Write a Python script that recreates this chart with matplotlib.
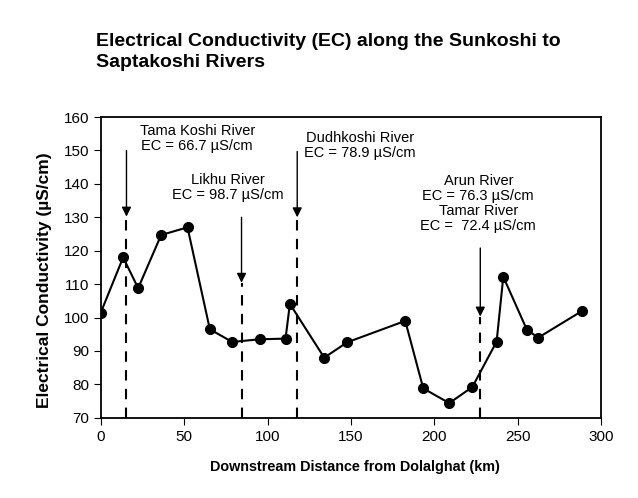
import matplotlib.pyplot as plt
import numpy as np

plt.rcParams['font.family'] = ['Liberation Sans', 'DejaVu Sans']

# distancia aguas abajo (km) y conductividad (uS/cm)
distancia = [0, 13.4, 22.4, 36.2, 52, 65.4, 78.8, 95.2, 110.8, 113.4, 134,
             147.8, 182.6, 193.4, 209, 222.8, 237.4, 241.4, 255.6, 262.4, 288.4]
ec = [101.5, 118, 108.8, 124.7, 127, 96.5, 92.7, 93.5, 93.7, 104.1, 88,
      92.6, 99, 78.8, 74.4, 79.2, 92.8, 112.2, 96.3, 94, 101.9]

# tributarios: posicion, texto
trib_x = [15.4, 84.4, 117.8, 227.6]
trib_texto = ['Tama Koshi River\nEC = 66.7 \u00b5S/cm',
              'Likhu River\nEC = 98.7 \u00b5S/cm',
              'Dudhkoshi River\nEC = 78.9 \u00b5S/cm',
              'Arun River\nEC = 76.3 \u00b5S/cm\nTamar River\nEC =  72.4 \u00b5S/cm']
flecha_ini = [150, 130, 149.7, 120.8]
flecha_fin = [130.2, 110.4, 130, 100.3]
texto_x = [57.8, 76.4, 155.4, 226.4]
texto_y = [158, 143.2, 155.8, 143]

fig = plt.figure(figsize=(6.38, 4.98), dpi=100)
ax = fig.add_axes([0.158, 0.161, 0.784, 0.604])

ax.plot(distancia, ec, color='black', linewidth=1.5, marker='o', markersize=7)

for i in range(len(trib_x)):
    ax.plot([trib_x[i], trib_x[i]], [70, flecha_fin[i]], color='black',
            linestyle=(0, (5, 4)), linewidth=1.5)
    ax.annotate('', xy=(trib_x[i], flecha_fin[i]), xytext=(trib_x[i], flecha_ini[i]),
                arrowprops=dict(arrowstyle='-|>', color='black', lw=1.0,
                                mutation_scale=14, shrinkA=0, shrinkB=0))
    ax.text(texto_x[i], texto_y[i], trib_texto[i], ha='center', va='top',
            fontsize=10.5, linespacing=1.1)

ax.set_xlim(0, 300)
ax.set_ylim(70, 160)
ax.set_xticks(np.arange(0, 301, 50))
ax.set_yticks(np.arange(70, 161, 10))
ax.tick_params(direction='out', labelsize=11, length=5)
for s in ax.spines.values():
    s.set_linewidth(1.3)

# etiquetas de los ejes
fig.text(0.556, 0.062, 'Downstream Distance from Dolalghat (km)', fontsize=10.4,
         fontweight='bold', ha='center', va='center')
fig.text(0.0705, 0.438, 'Electrical Conductivity (\u00b5S/cm)', fontsize=12.5,
         fontweight='bold', ha='center', va='center', rotation=90)

fig.text(0.150, 0.934, 'Electrical Conductivity (EC) along the Sunkoshi to\nSaptakoshi Rivers',
         fontsize=14, fontweight='bold', ha='left', va='top', linespacing=1.35)

fig.savefig('out.png', dpi=100)
